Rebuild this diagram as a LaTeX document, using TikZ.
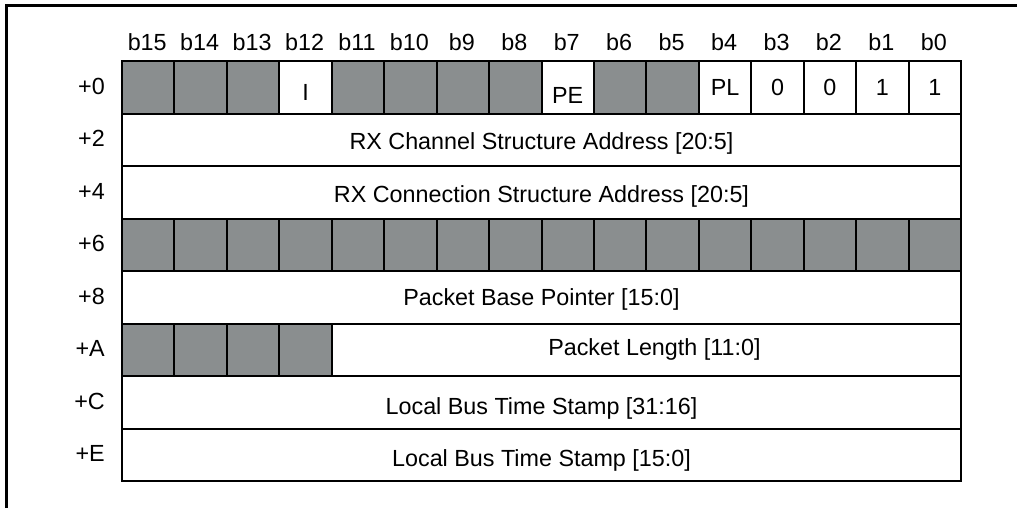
\documentclass[tikz,border=0pt]{standalone}
\usepackage{fontspec}
\setmainfont{Liberation Sans}
\usetikzlibrary{positioning}
\definecolor{resgray}{RGB}{138,142,143}
\tikzset{
  cellbox/.style={draw, line width=1.5pt, inner sep=0pt, minimum width=39.33pt,
    minimum height=39.375pt, anchor=north west},
  fieldbox/.style={cellbox, minimum width=#1},
  bitlabel/.style={inner sep=0pt, anchor=base},
  rowlabel/.style={inner sep=0pt, anchor=east},
  fieldtext/.style={inner sep=0pt}
}
\begin{document}
\begin{tikzpicture}[x=0.75pt, y=-0.75pt, font=\fontsize{17.5}{20}\selectfont]
  \useasboundingbox (0,0) rectangle (1017,508);
  % outer frame, top and left only
  \draw[line width=2.25pt] (6,508) -- (6,5.5) -- (1017,5.5);
  % bit numbers
  \foreach \lbl [count=\i from 0] in {b15,b14,b13,b12,b11,b10,b9,b8,b7,b6,b5,b4,b3,b2,b1,b0}
    \node[bitlabel] (h\i) at ({121+(\i+0.5)*52.44}, 50) {\lbl};
  % offsets
  \foreach \lbl [count=\r from 0] in {+0,+2,+4,+6,+8,+A,+C,+E}
    \node[rowlabel] (r\r) at (105, {60+(\r+0.5)*52.5}) {\lbl};
  % word +0
  \foreach \txt/\fil/\dy [count=\i from 0] in
    {/resgray/0, /resgray/0, /resgray/0, I/white/5, /resgray/0, /resgray/0, /resgray/0, /resgray/0,
     PE/white/8, /resgray/0, /resgray/0, PL/white/0, 0/white/0, 0/white/0, 1/white/0, 1/white/0}
  {
    \node[cellbox, fill=\fil] (c0\i) at ({121+\i*52.44}, 60) {};
    \node[fieldtext] (t0\i) at ([yshift=-\dy*0.75pt]c0\i.center) {\txt};
  }
  % words +2, +4
  \node[fieldbox=629.25pt] (f2) at (121, 112.5) {};
  \node[fieldtext] (t2) at ([yshift=-3pt]f2.center) {RX Channel Structure Address [20:5]};
  \node[fieldbox=629.25pt] (f4) at (121, 165) {};
  \node[fieldtext] (t4) at ([yshift=-3pt]f4.center) {RX Connection Structure Address [20:5]};
  % word +6, reserved
  \foreach \i in {0,...,15}
    \node[cellbox, fill=resgray] (c6\i) at ({121+\i*52.44}, 217.5) {};
  % word +8
  \node[fieldbox=629.25pt] (f8) at (121, 270) {};
  \node[fieldtext] (t8) at ([yshift=-2pt]f8.center) {Packet Base Pointer [15:0]};
  % word +A
  \foreach \i in {0,...,3}
    \node[cellbox, fill=resgray] (cA\i) at ({121+\i*52.44}, 322.5) {};
  \node[fieldbox=471.96pt] (fA) at ({121+4*52.44}, 322.5) {};
  \node[fieldtext] (tA) at ([xshift=6pt]fA.center) {Packet Length [11:0]};
  % words +C, +E
  \node[fieldbox=629.25pt] (fC) at (121, 375) {};
  \node[fieldtext] (tC) at ([yshift=-4.5pt]fC.center) {Local Bus Time Stamp [31:16]};
  \node[fieldbox=629.25pt] (fE) at (121, 427.5) {};
  \node[fieldtext] (tE) at ([yshift=-4.5pt]fE.center) {Local Bus Time Stamp [15:0]};
\end{tikzpicture}
\end{document}
